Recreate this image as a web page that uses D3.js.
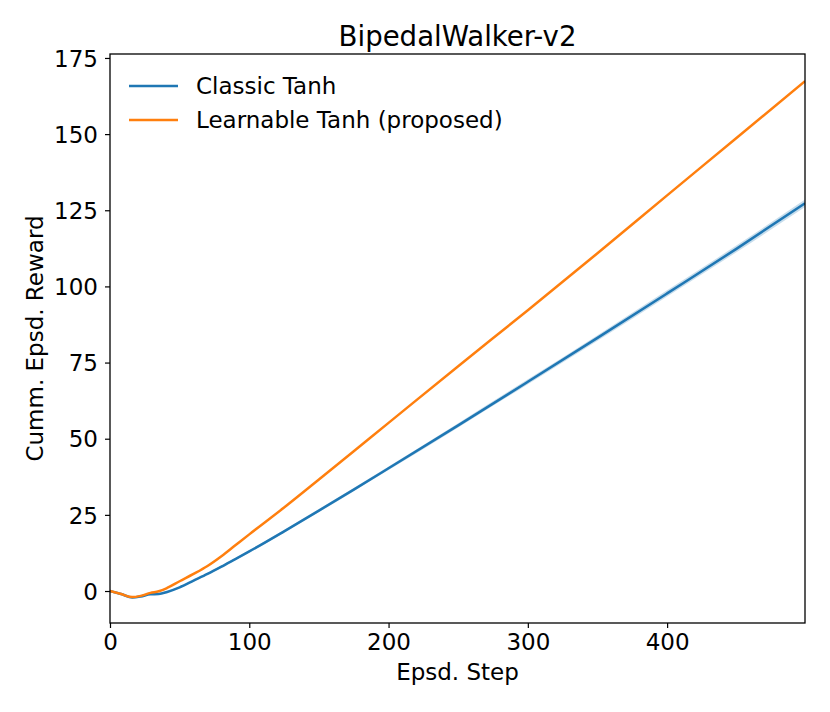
<!DOCTYPE html>
<html>
<head>
<meta charset="utf-8">
<script src="https://cdn.jsdelivr.net/npm/d3@7"></script>
<style>
  html, body { margin: 0; padding: 0; background: #fff; }
  svg { display: block; }
  text { font-family: "DejaVu Sans", sans-serif; fill: #000; }
</style>
</head>
<body>
<div id="chart"></div>
<script>
const title = "BipedalWalker-v2";
const xLabel = "Epsd. Step";
const yLabel = "Cumm. Epsd. Reward";
const seriesNames = ["Classic Tanh", "Learnable Tanh (proposed)"];
const seriesColors = ["#1f77b4", "#ff7f0e"];

const steps =   [0,   8,   16,   22,   29,   35,   41,   50,  60,  70,  80,  90,   100,  125,  150,  175,  200,  250,  300,  350,  400,  450,   499];
const classic = [0, -1.0, -2.1, -1.8, -1.1, -1.0, -0.3, 1.2, 3.4, 5.6, 8.0, 10.5, 13.0, 19.6, 26.4, 33.3, 40.3, 54.4, 68.7, 83.1, 97.7, 112.4, 127.3];
const classicStd = [0, 0.1, 0.15, 0.15, 0.2, 0.2, 0.2, 0.25, 0.3, 0.3, 0.35, 0.35, 0.4, 0.45, 0.5, 0.55, 0.6, 0.7, 0.8, 0.9, 1.0, 1.1, 1.2];
const learnable = [0, -1.0, -2.0, -1.6, -0.6, -0.1, 1.0, 3.2, 5.6, 8.2, 11.4, 15.0, 18.6, 27.4, 36.6, 45.9, 55.2, 73.8, 92.2, 110.9, 129.9, 148.8, 167.4];
const learnableStd = [0, 0.05, 0.05, 0.05, 0.05, 0.05, 0.05, 0.05, 0.05, 0.05, 0.05, 0.05, 0.1, 0.1, 0.1, 0.1, 0.1, 0.1, 0.15, 0.15, 0.15, 0.15, 0.2];

const xTicks = [0, 100, 200, 300, 400];
const yTicks = [0, 25, 50, 75, 100, 125, 150, 175];
const xDomain = [0, 499];
const yDomain = [-10.5, 176.3];

const W = 830, H = 712;
const mLeft = 110, mRight = 805, mTop = 54, mBottom = 623;

const svg = d3.select("#chart").append("svg").attr("width", W).attr("height", H);

const x = d3.scaleLinear().domain(xDomain).range([mLeft, mRight]);
const y = d3.scaleLinear().domain(yDomain).range([mBottom, mTop]);

const series = [
  { name: seriesNames[0], color: seriesColors[0], vals: classic, std: classicStd },
  { name: seriesNames[1], color: seriesColors[1], vals: learnable, std: learnableStd }
];

svg.append("defs").append("clipPath").attr("id", "clip")
  .append("rect").attr("x", mLeft).attr("y", mTop).attr("width", mRight - mLeft).attr("height", mBottom - mTop);

const plot = svg.append("g").attr("clip-path", "url(#clip)");

series.forEach(s => {
  const pts = steps.map((t, i) => ({ t, v: s.vals[i], sd: s.std[i] }));
  plot.append("path")
    .datum(pts)
    .attr("fill", s.color)
    .attr("fill-opacity", 0.25)
    .attr("d", d3.area().curve(d3.curveMonotoneX)
      .x(d => x(d.t)).y0(d => y(d.v - d.sd)).y1(d => y(d.v + d.sd)));
  plot.append("path")
    .datum(pts)
    .attr("fill", "none")
    .attr("stroke", s.color)
    .attr("stroke-width", 2.5)
    .attr("stroke-linejoin", "round")
    .attr("d", d3.line().curve(d3.curveMonotoneX).x(d => x(d.t)).y(d => y(d.v)));
});

// axes
const fs = 23;
const xAxis = d3.axisBottom(x).tickValues(xTicks).tickSize(5).tickPadding(6).tickFormat(d3.format("d"));
const yAxis = d3.axisLeft(y).tickValues(yTicks).tickSize(5).tickPadding(7).tickFormat(d3.format("d"));

const gx = svg.append("g").attr("transform", `translate(0,${mBottom})`).call(xAxis);
const gy = svg.append("g").attr("transform", `translate(${mLeft},0)`).call(yAxis);
[gx, gy].forEach(g => {
  g.select(".domain").remove();
  g.selectAll(".tick line").attr("stroke", "#000").attr("stroke-width", 1.2);
  g.selectAll(".tick text").attr("font-size", fs).attr("font-family", "DejaVu Sans").attr("fill", "#000");
});
gy.selectAll(".tick text").attr("dy", "0.36em");

// frame
svg.append("rect").attr("x", mLeft).attr("y", mTop).attr("width", mRight - mLeft).attr("height", mBottom - mTop)
  .attr("fill", "none").attr("stroke", "#000").attr("stroke-width", 1.3);

// title & labels
svg.append("text").attr("x", (mLeft + mRight) / 2).attr("y", 45.5).attr("text-anchor", "middle")
  .attr("font-size", 27.6).text(title);
svg.append("text").attr("x", (mLeft + mRight) / 2).attr("y", 679.5).attr("text-anchor", "middle")
  .attr("font-size", fs).text(xLabel);
svg.append("text").attr("transform", `translate(43,${(mTop + mBottom) / 2}) rotate(-90)`)
  .attr("text-anchor", "middle").attr("font-size", fs).text(yLabel);

// legend
const leg = svg.append("g");
series.forEach((s, i) => {
  const ly = 86 + i * 34;
  leg.append("line").attr("x1", 129).attr("x2", 178).attr("y1", ly).attr("y2", ly)
    .attr("stroke", s.color).attr("stroke-width", 2.5);
  leg.append("text").attr("x", 196).attr("y", ly).attr("dy", "0.36em")
    .attr("font-size", fs).text(s.name);
});
</script>
</body>
</html>
